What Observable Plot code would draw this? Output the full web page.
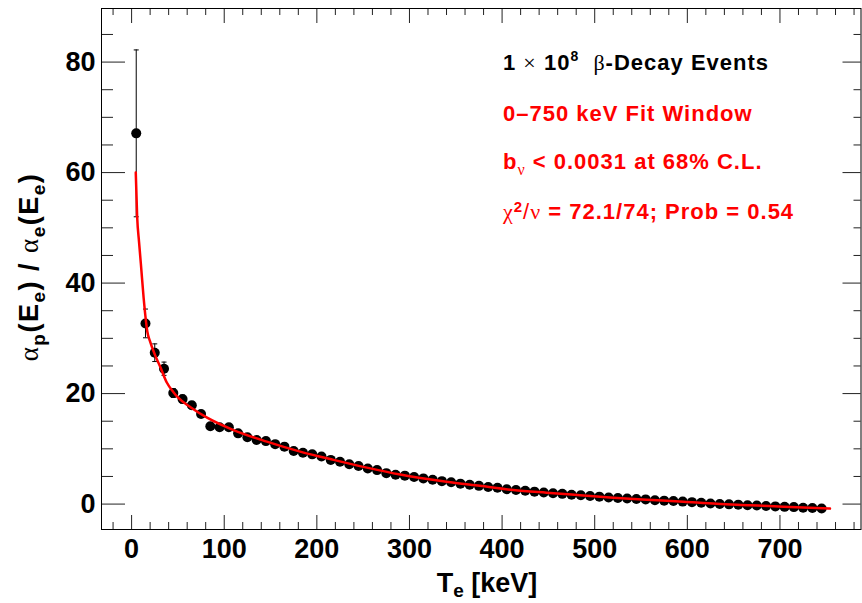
<!DOCTYPE html>
<html><head><meta charset="utf-8">
<script src="https://cdn.jsdelivr.net/npm/d3@7"></script>
<script src="https://cdn.jsdelivr.net/npm/@observablehq/plot@0.6"></script>
<style>html,body{margin:0;padding:0;background:#fff;} svg{display:block;}</style>
</head><body><div id="chart"></div>
<script>
// ---- data ----
const energies = [5,15,25,35,45,55,65,75,85,95,105,115,125,135,145,155,165,175,185,195,205,215,225,235,245,255,265,275,285,295,305,315,325,335,345,355,365,375,385,395,405,415,425,435,445,455,465,475,485,495,505,515,525,535,545,555,565,575,585,595,605,615,625,635,645,655,665,675,685,695,705,715,725,735,745];
const ratio = [67.1,32.7,27.4,24.5,20.1,19.0,17.9,16.3,14.1,13.9,
  13.9,12.8,12.1,11.6,11.4,10.85,10.4,9.6,9.3,9.0,
  8.6,8.0,7.65,7.2,6.9,6.45,6.15,5.6,5.3,5.15,
  4.9,4.65,4.4,4.15,3.95,3.7,3.5,3.3,3.1,2.95,
  2.7,2.55,2.4,2.25,2.1,1.95,1.85,1.7,1.6,1.45,
  1.35,1.2,1.1,1.0,0.92,0.85,0.7,0.62,0.55,0.45,
  0.35,0.25,0.1,0.0,-0.05,-0.1,-0.2,-0.25,-0.35,-0.42,
  -0.5,-0.55,-0.65,-0.7,-0.8];
const ratioErr = [15.1,2.6,1.6,1.2,0.8,0.7,0.65,0.6,0.55,0.5,
  0.5,0.45,0.45,0.4,0.4,0.4,0.35,0.35,0.35,0.3,
  0.3,0.3,0.3,0.3,0.25,0.25,0.25,0.25,0.25,0.25,
  0.2,0.2,0.2,0.2,0.2,0.2,0.2,0.2,0.2,0.2,
  0.2,0.2,0.2,0.2,0.2,0.2,0.2,0.2,0.2,0.2,
  0.2,0.2,0.2,0.2,0.2,0.2,0.2,0.2,0.2,0.2,
  0.2,0.2,0.2,0.2,0.2,0.2,0.2,0.2,0.2,0.2,
  0.2,0.2,0.2,0.2,0.2];
const fitT = [4.5,6,8,10,13,17,20,25,31,38,45,50,64,82,110,146,182,218,254,290,340,376,412,448,484,520,556,596,632,668,704,754];
const fitV = [60,52,47.5,43.5,37.3,31.2,29.4,27.1,24.8,22.0,20.3,19.3,17.5,15.6,13.4,11.3,9.5,8.0,6.6,5.35,4.05,3.3,2.55,2.05,1.6,1.15,0.8,0.42,0.05,-0.2,-0.48,-0.82];
const xMajorTicks = [0,100,200,300,400,500,600,700];
const xMinorTicks = [-20,20,40,60,80,120,140,160,180,220,240,260,280,320,340,360,380,420,440,460,480,520,540,560,580,620,640,660,680,720,740,760,780];
const yMajorTicks = [0,20,40,60,80];
const yMinorTicks = [5,10,15,25,30,35,45,50,55,65,70,75,85];
const legendLine2 = "0\u2013750 keV Fit Window";

// ---- build tables ----
const points = energies.map((t, i) => ({T: t, v: ratio[i], e: ratioErr[i]}));
const fit = fitT.map((t, i) => ({T: t, v: fitV[i]}));

const W = 862, H = 603, ML = 101, MR = 1.5, MT = 8, MB = 74;
const FW = W - ML - MR, FH = H - MT - MB;
const SANS = "'Liberation Sans', Arial, Helvetica, sans-serif";
const SERIF = "'Liberation Serif', 'Times New Roman', serif";
const TICK = "#222";

const capSymbol = {draw(ctx, size) { const w = Math.sqrt(size / Math.PI); ctx.moveTo(-w, 0); ctx.lineTo(w, 0); }};

const chart = Plot.plot({
  width: W, height: H,
  marginLeft: ML, marginRight: MR, marginTop: MT, marginBottom: MB,
  style: {fontFamily: SANS, background: "#fff", color: "#000"},
  x: {domain: [-32.5, 787.5], label: null},
  y: {domain: [-4.6, 89.7], label: null},
  marks: [
    // inward ticks: bottom, top, left, right
    Plot.ruleX(xMajorTicks, {x: d => d, insetTop: FH - 14, stroke: TICK}),
    Plot.ruleX(xMinorTicks, {x: d => d, insetTop: FH - 7, stroke: TICK}),
    Plot.ruleX(xMajorTicks, {x: d => d, insetBottom: FH - 15, stroke: TICK}),
    Plot.ruleX(xMinorTicks, {x: d => d, insetBottom: FH - 7, stroke: TICK}),
    Plot.ruleY(yMajorTicks, {y: d => d, insetRight: FW - 24, stroke: TICK}),
    Plot.ruleY(yMinorTicks, {y: d => d, insetRight: FW - 12, stroke: TICK}),
    Plot.ruleY(yMajorTicks, {y: d => d, insetLeft: FW - 18, stroke: TICK}),
    Plot.ruleY(yMinorTicks, {y: d => d, insetLeft: FW - 7, stroke: TICK}),
    Plot.axisX({ticks: xMajorTicks, tickSize: 0, tickPadding: 9, fontSize: 27, fontWeight: "bold", tickFormat: d => String(d), label: null}),
    Plot.axisY({ticks: yMajorTicks, tickSize: 0, tickPadding: 6, fontSize: 27, fontWeight: "bold", tickFormat: d => String(d), label: null}),
    // error bars
    Plot.ruleX(points, {x: "T", y1: d => d.v - d.e, y2: d => d.v + d.e, stroke: "#000", strokeWidth: 1}),
    Plot.dot(points, {x: "T", y: d => d.v + d.e, symbol: capSymbol, r: 2.5, stroke: "#000", fill: "none", strokeWidth: 1}),
    Plot.dot(points, {x: "T", y: d => d.v - d.e, symbol: capSymbol, r: 2.5, stroke: "#000", fill: "none", strokeWidth: 1}),
    // data points
    Plot.dot(points, {x: "T", y: "v", r: 5, fill: "#000", stroke: "none"}),
    // fit
    Plot.line(fit, {x: "T", y: "v", stroke: "#ff0000", strokeWidth: 2.5, curve: "monotone-x"}),
    Plot.frame({stroke: "#000", strokeWidth: 1})
  ]
});
document.getElementById("chart").appendChild(chart);

// ---- titles and legend text ----
const svg = d3.select(chart);
const g = svg.append("g").attr("font-family", SANS).attr("font-weight", "bold").attr("fill", "#000").attr("text-anchor", "start");

function part(t, txt, opts = {}) {
  const s = t.append("tspan").text(txt);
  if (opts.serif) s.attr("font-family", SERIF).attr("font-weight", "normal");
  if (opts.size) s.attr("font-size", opts.size);
  if (opts.dy) s.attr("dy", opts.dy);
  if (opts.weight) s.attr("font-weight", opts.weight);
  return s;
}

// x title
const xt = g.append("text").attr("x", 487).attr("y", 592).attr("text-anchor", "middle").attr("font-size", 27);
part(xt, "T");
part(xt, "e", {size: 19, dy: 5});
part(xt, " [keV]", {dy: -5});

// y title
const yt = g.append("text").attr("transform", "translate(38,267) rotate(-90)").attr("text-anchor", "middle").attr("font-size", 27).attr("letter-spacing", 1.5);
part(yt, "\u03b1", {serif: true});
part(yt, "p", {size: 19, dy: 7});
part(yt, "(E", {dy: -7});
part(yt, "e", {size: 19, dy: 7});
part(yt, ") / ", {dy: -7});
part(yt, "\u03b1", {serif: true});
part(yt, "e", {size: 19, dy: 7});
part(yt, "(E", {dy: -7});
part(yt, "e", {size: 19, dy: 7});
part(yt, ")", {dy: -7});

// legend
const LX = 503, LS = 22;
const l1 = g.append("text").attr("x", LX).attr("y", 70).attr("font-size", LS).attr("letter-spacing", 1);
part(l1, "1 ");
part(l1, "\u00d7", {serif: true});
part(l1, " 10");
part(l1, "8", {size: 14, dy: -9});
part(l1, "  ", {dy: 9});
part(l1, "\u03b2", {serif: true});
part(l1, "-Decay Events");

const red = "#ff0000";
const l2 = g.append("text").attr("x", LX).attr("y", 120.5).attr("font-size", LS).attr("letter-spacing", 1).attr("fill", red);
part(l2, legendLine2);

const l3 = g.append("text").attr("x", LX).attr("y", 168.5).attr("font-size", LS).attr("letter-spacing", 1).attr("fill", red);
part(l3, "b");
part(l3, "\u03bd", {serif: true, size: 16, dy: 6});
part(l3, " < 0.0031 at 68% C.L.", {dy: -6});

const l4 = g.append("text").attr("x", LX).attr("y", 218.5).attr("font-size", LS).attr("letter-spacing", 1).attr("fill", red);
part(l4, "\u03c7", {serif: true});
part(l4, "2", {size: 15, dy: -7});
part(l4, "/", {dy: 7, weight: "normal"});
part(l4, "\u03bd", {serif: true});
part(l4, " = 72.1/74; Prob = 0.54");
</script>
</body></html>
